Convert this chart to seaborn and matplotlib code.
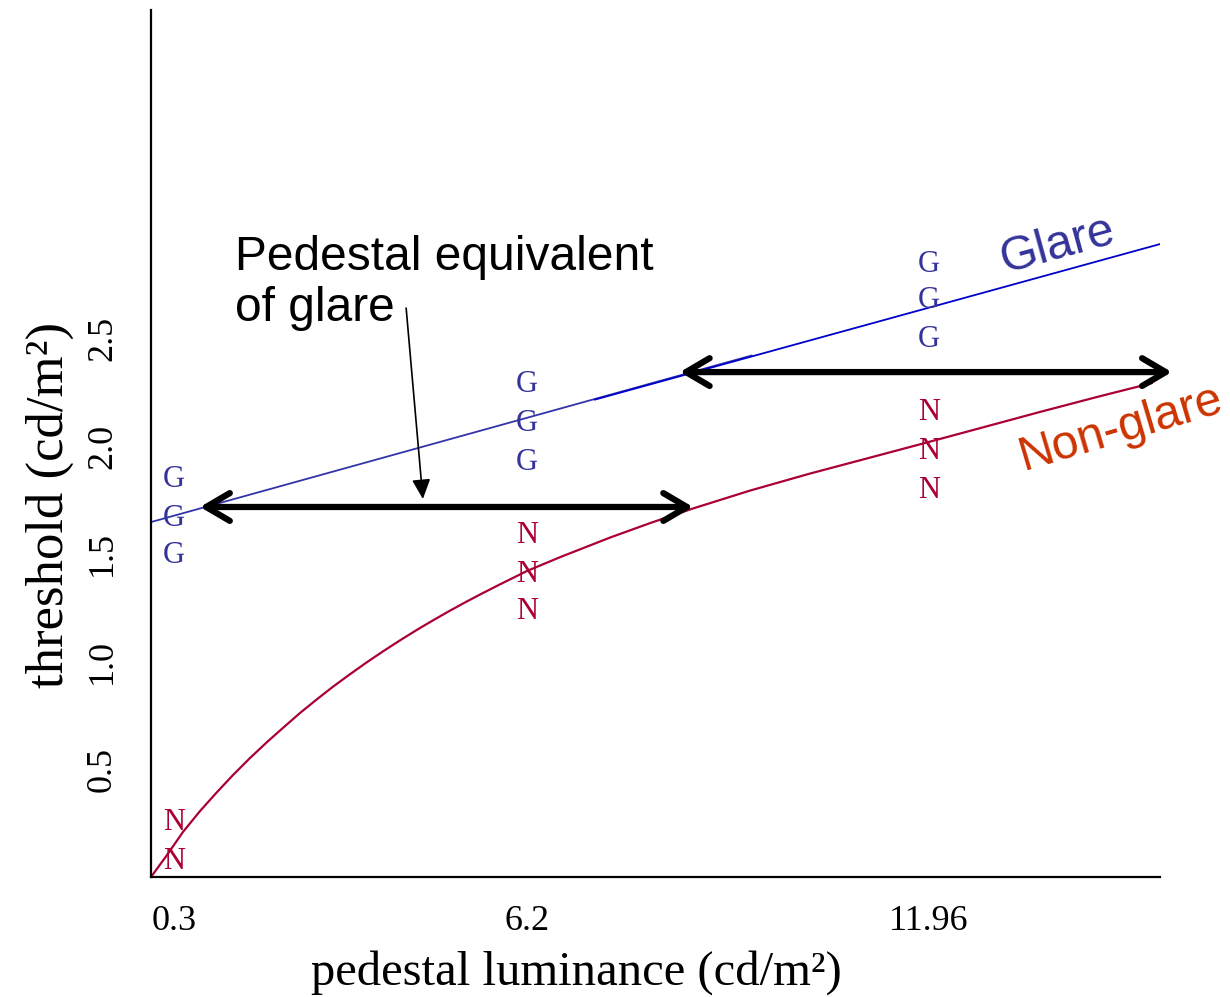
import numpy as np
import matplotlib
matplotlib.use("Agg")
import matplotlib.pyplot as plt
import seaborn as sns

# Pedestal luminance levels (cd/m^2) shown on the x axis
pedestal_levels = [0.3, 6.2, 11.96]
pedestal_labels = ["0.3", "6.2", "11.96"]

# Threshold readings at each pedestal level (cd/m^2)
glare_thresholds = {
    0.3: [1.86, 1.68, 1.51],
    6.2: [2.30, 2.12, 1.94],
    11.96: [2.86, 2.69, 2.51],
}
nonglare_thresholds = {
    0.3: [0.27, 0.09],
    6.2: [1.60, 1.42, 1.25],
    11.96: [2.17, 1.99, 1.81],
}

# Non-glare threshold curve
nonglare_curve_x = [0.0, 0.209, 0.450, 0.735, 1.019, 1.286, 1.570, 1.854,
                    2.122, 2.406, 2.690, 2.957, 3.242, 3.526, 3.793, 4.077,
                    4.361, 4.629, 4.913, 5.197, 5.465, 5.749, 6.033, 6.200,
                    6.673, 7.389, 7.962, 8.578, 9.395, 10.254, 11.115, 11.903,
                    12.762, 13.550, 14.410, 15.155]
nonglare_curve_y = [0.0, 0.102, 0.209, 0.306, 0.394, 0.473, 0.552, 0.626,
                    0.692, 0.761, 0.825, 0.883, 0.941, 0.997, 1.047, 1.098,
                    1.147, 1.191, 1.236, 1.279, 1.318, 1.358, 1.397, 1.420,
                    1.484, 1.575, 1.642, 1.710, 1.793, 1.872, 1.946, 2.014,
                    2.089, 2.158, 2.231, 2.292]

# Glare threshold line (two overlapping strokes)
glare_line_a_x = [0.0, 9.42]
glare_line_a_y = [1.647, 2.42]
glare_line_b_x = [7.17, 15.27]
glare_line_b_y = [2.215, 2.937]

# Pedestal-equivalent arrows: (x_start, x_end, threshold)
equiv_arrows = [(0.735, 8.58, 1.717), (8.39, 15.44, 2.343)]

# ---- piecewise-linear x scale so the three pedestal levels sit where wanted
_knot_val = np.array([0.0, 0.3, 6.2, 11.96])
_knot_pos = np.array([0.0, 23.0, 376.0, 778.0])
_slope_lo = (_knot_pos[1] - _knot_pos[0]) / (_knot_val[1] - _knot_val[0])
_slope_hi = (_knot_pos[-1] - _knot_pos[-2]) / (_knot_val[-1] - _knot_val[-2])


def _fwd(v):
    v = np.asarray(v, dtype=float)
    out = np.interp(v, _knot_val, _knot_pos)
    out = out + np.where(v > _knot_val[-1], (v - _knot_val[-1]) * _slope_hi, 0.0)
    out = out + np.where(v < _knot_val[0], (v - _knot_val[0]) * _slope_lo, 0.0)
    return out


def _inv(p):
    p = np.asarray(p, dtype=float)
    out = np.interp(p, _knot_pos, _knot_val)
    out = out + np.where(p > _knot_pos[-1], (p - _knot_pos[-1]) / _slope_hi, 0.0)
    out = out + np.where(p < _knot_pos[0], (p - _knot_pos[0]) / _slope_lo, 0.0)
    return out


sns.set_theme(style="white")
plt.rcParams["font.family"] = ["Liberation Serif", "DejaVu Serif"]
plt.rcParams["text.color"] = "black"
plt.rcParams["axes.labelcolor"] = "black"
plt.rcParams["xtick.color"] = "black"
plt.rcParams["ytick.color"] = "black"

fig = plt.figure(figsize=(12.3, 9.97), dpi=100)
ax = fig.add_axes([151 / 1230, 120 / 997, 1009 / 1230, 867 / 997])
ax.set_xscale("function", functions=(_fwd, _inv))
ax.set_xlim(0, 15.27)
ax.set_ylim(0, 867 / 215.5)

glare_col = "#333399"
nonglare_col = "#aa0033"

sns.lineplot(x=nonglare_curve_x, y=nonglare_curve_y, ax=ax, sort=False,
             estimator=None, color=nonglare_col, lw=1.6)
sns.lineplot(x=glare_line_a_x, y=glare_line_a_y, ax=ax, sort=False,
             estimator=None, color="#3333aa", lw=1.3)
sns.lineplot(x=glare_line_b_x, y=glare_line_b_y, ax=ax, sort=False,
             estimator=None, color="#0000cc", lw=1.3)

# Letter markers for individual readings
for lvl in pedestal_levels:
    for v in glare_thresholds[lvl]:
        ax.text(lvl, v, "G", color=glare_col, fontsize=22,
                ha="center", va="center_baseline")
    for v in nonglare_thresholds[lvl]:
        ax.text(lvl, v, "N", color=nonglare_col, fontsize=22,
                ha="center", va="center_baseline")

# Horizontal double-headed arrows
for x0, x1, yv in equiv_arrows:
    ax.annotate("", xy=(x1, yv), xytext=(x0, yv), annotation_clip=False,
                arrowprops=dict(arrowstyle="<->,head_length=0.85,head_width=0.5",
                                lw=4.5, color="black", shrinkA=0, shrinkB=0,
                                mutation_scale=20))

# Explanatory note with pointer
ax.text(1.32, 2.98, "Pedestal equivalent\nof glare", family="Liberation Sans",
        fontsize=34.5, color="black", ha="left", va="top", linespacing=1.17)
ax.annotate("", xy=(4.46, 1.754), xytext=(4.18, 2.64),
            arrowprops=dict(arrowstyle="-|>,head_length=0.6,head_width=0.28",
                            lw=1.2, color="black", shrinkA=0, shrinkB=0,
                            mutation_scale=20))

# Curve names
ax.text(13.81, 2.93, "Glare", family="Liberation Sans", fontsize=34.5,
        color=glare_col, rotation=15.4, ha="center", va="center",
        rotation_mode="anchor")
ax.text(14.70, 2.08, "Non-glare", family="Liberation Sans", fontsize=34.5,
        color="#cc3300", rotation=16.5, ha="center", va="center",
        rotation_mode="anchor")

# Axes styling
ax.set_xticks(pedestal_levels)
ax.set_xticklabels(pedestal_labels, fontsize=26)
ax.set_yticks([0.5, 1.0, 1.5, 2.0, 2.5])
ax.set_yticklabels(["0.5", "1.0", "1.5", "2.0", "2.5"], fontsize=26,
                   rotation=90, va="center")
ax.tick_params(axis="x", length=0, pad=20)
ax.tick_params(axis="y", length=0, pad=23)
ax.set_xlabel("pedestal luminance (cd/m²)", fontsize=35, labelpad=9,
              x=(576 - 151) / 1009)
ax.set_ylabel("threshold (cd/m²)", fontsize=38, labelpad=9,
              y=(877 - 505) / 867)

for side in ("top", "right"):
    ax.spines[side].set_visible(False)
for side in ("left", "bottom"):
    ax.spines[side].set_color("black")
    ax.spines[side].set_linewidth(1.6)

fig.savefig("out.png", dpi=100)
